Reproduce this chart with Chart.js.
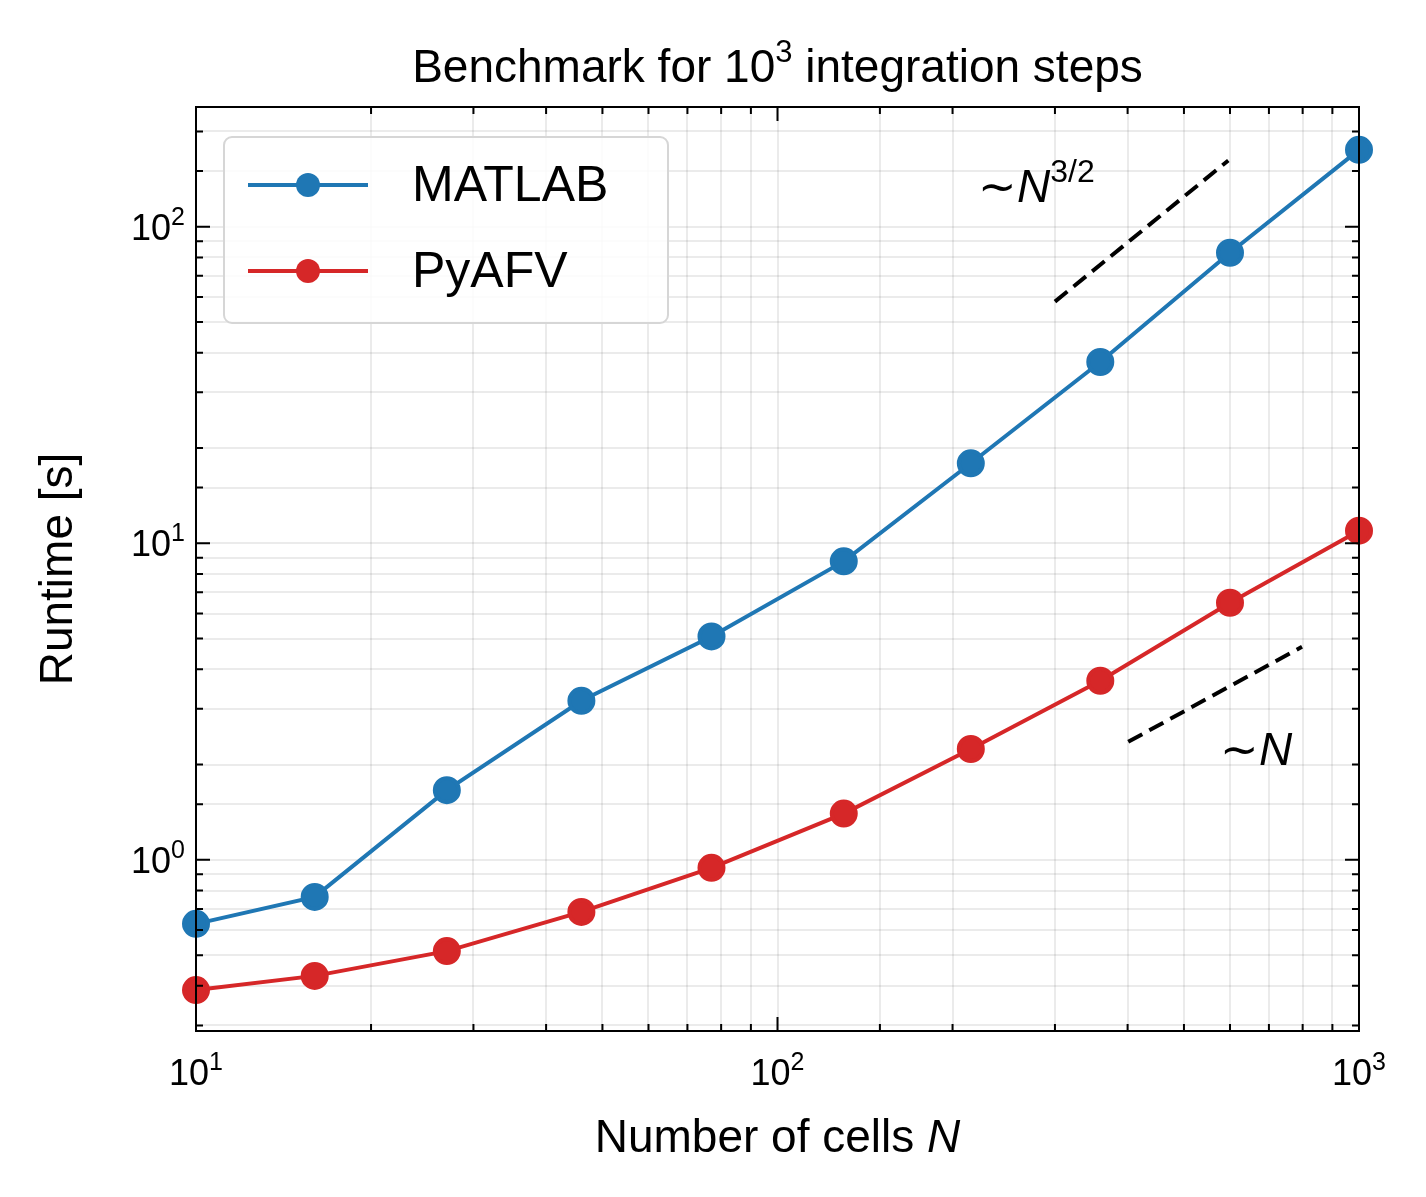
<!DOCTYPE html>
<html>
<head>
<meta charset="utf-8">
<script src="https://cdn.jsdelivr.net/npm/chart.js@4/dist/chart.umd.min.js"></script>
<style>
  body { margin: 0; background: #fff; }
  #wrap { width: 1426px; height: 1197px; }
</style>
</head>
<body>
<div id="wrap"><canvas id="c"></canvas></div>
<script>
const cells = [10, 16, 27, 46, 77, 130, 215, 359, 600, 1000];
const matlab = [0.628, 0.764, 1.66, 3.18, 5.08, 8.77, 17.9, 37.4, 82.8, 175];
const pyafv = [0.388, 0.43, 0.515, 0.685, 0.944, 1.40, 2.24, 3.68, 6.49, 10.96];
const guide32 = [[300, 58], [596, 162]];
const guide1 = [[401, 2.36], [798, 4.71]];

const FONT = 'Liberation Sans, Arial, sans-serif';

function isPow(v) {
  const e = Math.log10(v);
  return Math.abs(e - Math.round(e)) < 1e-9;
}

// draw pieces [{text, size, italic, dy}] starting at x, returns width
function runs(ctx, parts, x, y, measureOnly) {
  let w = 0;
  parts.forEach(p => {
    ctx.font = (p.italic ? 'italic ' : '') + p.size + 'px ' + FONT;
    if (!measureOnly) ctx.fillText(p.text, x + w, y + (p.dy || 0));
    w += ctx.measureText(p.text).width;
  });
  return w;
}
function powParts(e) {
  return [{ text: '10', size: 36 }, { text: String(e), size: 25, dy: -15 }];
}

const extras = {
  id: 'extras',
  afterDraw(chart) {
    const { ctx, chartArea: a, scales: { x, y } } = chart;
    ctx.save();
    ctx.strokeStyle = '#000';
    ctx.lineWidth = 2;
    x.ticks.forEach(t => {
      const px = x.getPixelForValue(t.value);
      const len = isPow(t.value) ? 14 : 7;
      ctx.beginPath();
      ctx.moveTo(px, a.bottom); ctx.lineTo(px, a.bottom - len);
      ctx.moveTo(px, a.top); ctx.lineTo(px, a.top + len);
      ctx.stroke();
    });
    y.ticks.forEach(t => {
      const py = y.getPixelForValue(t.value);
      const len = isPow(t.value) ? 14 : 7;
      ctx.beginPath();
      ctx.moveTo(a.left, py); ctx.lineTo(a.left + len, py);
      ctx.moveTo(a.right, py); ctx.lineTo(a.right - len, py);
      ctx.stroke();
    });
    ctx.strokeRect(a.left, a.top, a.right - a.left, a.bottom - a.top);

    // tick labels
    ctx.fillStyle = '#000';
    ctx.textBaseline = 'alphabetic';
    ctx.textAlign = 'left';
    x.ticks.filter(t => isPow(t.value)).forEach(t => {
      const parts = powParts(Math.round(Math.log10(t.value)));
      const w = runs(ctx, parts, 0, 0, true);
      runs(ctx, parts, x.getPixelForValue(t.value) - w / 2, 1085);
    });
    y.ticks.filter(t => isPow(t.value)).forEach(t => {
      const parts = powParts(Math.round(Math.log10(t.value)));
      const w = runs(ctx, parts, 0, 0, true);
      runs(ctx, parts, 185 - w, y.getPixelForValue(t.value) + 13);
    });

    // axis titles
    const xt = [{ text: 'Number of cells ', size: 46 }, { text: 'N', size: 46, italic: true }];
    const xw = runs(ctx, xt, 0, 0, true);
    runs(ctx, xt, (a.left + a.right) / 2 - xw / 2, 1152);
    ctx.save();
    ctx.translate(72, (a.top + a.bottom) / 2);
    ctx.rotate(-Math.PI / 2);
    const yt = [{ text: 'Runtime [s]', size: 46 }];
    const yw = runs(ctx, yt, 0, 0, true);
    runs(ctx, yt, -yw / 2, 0);
    ctx.restore();

    // title
    const tt = [{ text: 'Benchmark for 10', size: 46 }, { text: '3', size: 31, dy: -20 },
      { text: ' integration steps', size: 46 }];
    const tw = runs(ctx, tt, 0, 0, true);
    runs(ctx, tt, (a.left + a.right) / 2 - tw / 2, 82);

    // guide lines
    ctx.setLineDash([16, 8]);
    ctx.lineWidth = 4;
    [guide32, guide1].forEach(g => {
      ctx.beginPath();
      ctx.moveTo(x.getPixelForValue(g[0][0]), y.getPixelForValue(g[0][1]));
      ctx.lineTo(x.getPixelForValue(g[1][0]), y.getPixelForValue(g[1][1]));
      ctx.stroke();
    });
    ctx.setLineDash([]);

    // annotations
    runs(ctx, [{ text: '∼', size: 46 }, { text: 'N', size: 46, italic: true },
      { text: '3/2', size: 32, dy: -20 }], 978, 202);
    runs(ctx, [{ text: '∼', size: 46 }, { text: 'N', size: 46, italic: true }], 1220, 765);

    // legend
    ctx.fillStyle = 'rgba(255,255,255,0.85)';
    ctx.strokeStyle = '#d6d6d6';
    ctx.lineWidth = 2;
    ctx.beginPath();
    ctx.roundRect(224, 137, 444, 186, 8);
    ctx.fill(); ctx.stroke();
    chart.data.datasets.forEach((ds, i) => {
      const ly = 185 + i * 86;
      ctx.strokeStyle = ds.borderColor;
      ctx.lineWidth = 4;
      ctx.beginPath(); ctx.moveTo(248, ly); ctx.lineTo(368, ly); ctx.stroke();
      ctx.fillStyle = ds.borderColor;
      ctx.beginPath(); ctx.arc(308, ly, 12, 0, Math.PI * 2); ctx.fill();
      ctx.fillStyle = '#000';
      ctx.font = '50px ' + FONT;
      ctx.textBaseline = 'middle';
      ctx.fillText(ds.label, 412, ly + 2);
    });
    ctx.restore();
  }
};

new Chart(document.getElementById('c'), {
  type: 'line',
  data: {
    datasets: [
      { label: 'MATLAB', data: cells.map((c, i) => ({ x: c, y: matlab[i] })),
        borderColor: '#1f77b4', backgroundColor: '#1f77b4', borderWidth: 4,
        pointRadius: 12, pointHoverRadius: 12 },
      { label: 'PyAFV', data: cells.map((c, i) => ({ x: c, y: pyafv[i] })),
        borderColor: '#d62728', backgroundColor: '#d62728', borderWidth: 4,
        pointRadius: 12, pointHoverRadius: 12 }
    ]
  },
  options: {
    responsive: true,
    maintainAspectRatio: false,
    animation: false,
    clip: false,
    layout: { padding: { top: 107, right: 67, left: 0, bottom: 0 } },
    plugins: { legend: { display: false }, tooltip: { enabled: false } },
    scales: {
      x: {
        type: 'logarithmic', min: 10, max: 1000,
        afterFit: s => { s.height = 166; },
        grid: { color: 'rgba(0,0,0,0.08)', lineWidth: 2, drawTicks: false },
        border: { display: false },
        ticks: { display: false, autoSkip: false }
      },
      y: {
        type: 'logarithmic', min: 0.288, max: 239,
        afterFit: s => { s.width = 196; },
        grid: { color: 'rgba(0,0,0,0.08)', lineWidth: 2, drawTicks: false },
        border: { display: false },
        ticks: { display: false, autoSkip: false }
      }
    }
  },
  plugins: [extras]
});
</script>
</body>
</html>
